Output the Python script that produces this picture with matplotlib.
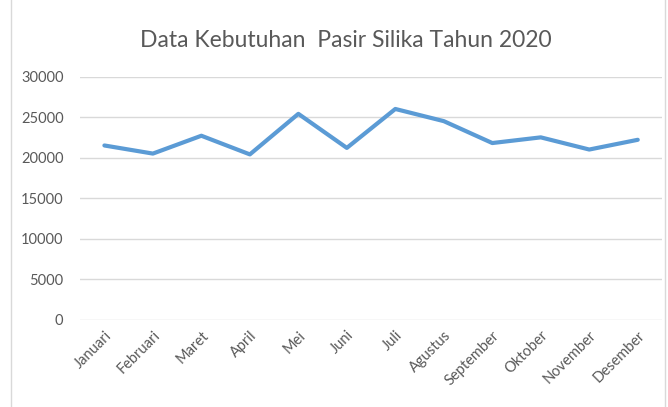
import matplotlib
matplotlib.use("Agg")
import matplotlib.pyplot as plt
from matplotlib.lines import Line2D

# data kebutuhan pasir silika per bulan
bulan = ['Januari', 'Februari', 'Maret', 'April', 'Mei', 'Juni', 'Juli',
         'Agustus', 'September', 'Oktober', 'November', 'Desember']
kebutuhan = [21500, 20500, 22700, 20400, 25400, 21200, 26000,
             24500, 21800, 22500, 21000, 22200]
yticks = [0, 5000, 10000, 15000, 20000, 25000, 30000]

plt.rcParams['font.family'] = ['Lato', 'DejaVu Sans']

fig = plt.figure(figsize=(6.68, 4.07), dpi=100)
ax = fig.add_axes([0.12, 0.214, 0.871, 0.598])

ax.plot(range(len(bulan)), kebutuhan, color='#5B9BD5', linewidth=3,
        solid_joinstyle='round', solid_capstyle='round', zorder=3)

ax.set_xlim(-0.5, len(bulan) - 0.5)
ax.set_ylim(0, 30000)
ax.set_yticks(yticks)
ax.set_yticklabels([str(v) for v in yticks], fontsize=10.5, color='#595959')
ax.set_xticks(range(len(bulan)))
ax.set_xticklabels(bulan, rotation=45, ha='right', rotation_mode='anchor',
                   fontsize=10.5, color='#595959')
ax.tick_params(length=0)
ax.tick_params(axis='y', pad=12)
ax.tick_params(axis='x', pad=6)
ax.grid(axis='y', color='#D9D9D9', linewidth=1)
ax.set_axisbelow(True)
for s in ax.spines.values():
    s.set_visible(False)

fig.text(0.517, 0.9, 'Data Kebutuhan  Pasir Silika Tahun 2020', ha='center',
         va='center', fontsize=16.5, color='#595959')

# garis tepi area chart
fig.add_artist(Line2D([0.016, 0.016], [0, 1], color='#D9D9D9', linewidth=1))
fig.add_artist(Line2D([0.996, 0.996], [0, 1], color='#D9D9D9', linewidth=1))

fig.savefig('out.png', dpi=100)
